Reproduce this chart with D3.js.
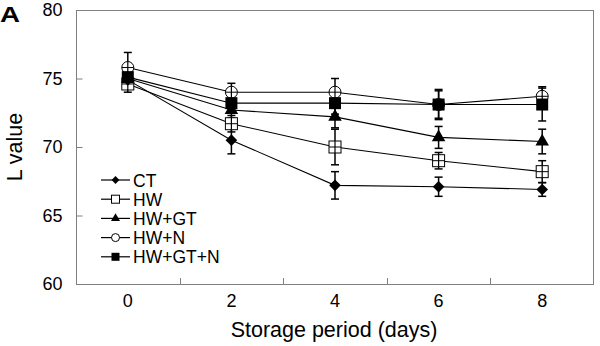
<!DOCTYPE html>
<html>
<head>
<meta charset="utf-8">
<script src="https://cdn.jsdelivr.net/npm/d3@7/dist/d3.min.js"></script>
<style>
  html, body { margin: 0; padding: 0; background: #fff; }
  svg { display: block; font-family: "Liberation Sans", Arial, sans-serif; }
</style>
</head>
<body>
<svg id="chart" width="600" height="346"></svg>
<script>
// Storage days (x categories)
const days = [0, 2, 4, 6, 8];
const yTicks = [60, 65, 70, 75, 80];

// Treatment names
const seriesNames = ["CT", "HW", "HW+GT", "HW+N", "HW+GT+N"];

// Mean L values per treatment
const ctValues      = [74.9, 70.5, 67.2, 67.1, 66.9];
const hwValues      = [74.6, 71.7, 70.0, 69.0, 68.2];
const hwgtValues    = [75.0, 72.7, 72.2, 70.7, 70.4];
const hwnValues     = [75.8, 74.0, 74.0, 73.1, 73.7];
const hwgtnValues   = [75.1, 73.2, 73.2, 73.1, 73.1];

// Standard deviations (error bars)
const ctErr    = [0.6, 1.0, 1.0, 0.7, 0.5];
const hwErr    = [0.6, 0.6, 1.3, 0.6, 0.8];
const hwgtErr  = [0.5, 0.6, 0.8, 0.8, 0.9];
const hwnErr   = [1.1, 0.65, 1.0, 1.0, 0.7];
const hwgtnErr = [0.7, 0.6, 0.8, 1.1, 1.2];

const symbols = ["diamond", "openSquare", "triangle", "openCircle", "square"];

const series = seriesNames.map((name, i) => ({
  name,
  values: [ctValues, hwValues, hwgtValues, hwnValues, hwgtnValues][i],
  errs: [ctErr, hwErr, hwgtErr, hwnErr, hwgtnErr][i],
  symbol: symbols[i]
}));

const svg = d3.select("#chart");
const margin = { left: 76, top: 10, right: 6, bottom: 62 };
const W = 600, H = 346;
const axisColor = "#7f7f7f";
const fontFamily = "Liberation Sans, Arial, sans-serif";

const x = d3.scaleBand().domain(days).range([margin.left, W - margin.right]);
const y = d3.scaleLinear().domain([60, 80]).range([H - margin.bottom, margin.top]);
const cx = d => x(d) + x.bandwidth() / 2;

// Plot frame
svg.append("rect")
  .attr("x", margin.left + 0.5).attr("y", margin.top + 0.5)
  .attr("width", W - margin.right - margin.left - 1)
  .attr("height", H - margin.bottom - margin.top)
  .attr("fill", "none").attr("stroke", axisColor).attr("stroke-width", 1);

// Y axis with inward ticks
const yAxis = svg.append("g")
  .attr("transform", `translate(${margin.left + 0.5},0)`)
  .call(d3.axisLeft(y).tickValues(yTicks).tickSizeInner(-6).tickSizeOuter(0).tickPadding(14));
yAxis.select(".domain").remove();
yAxis.selectAll(".tick line").attr("stroke", axisColor);
yAxis.selectAll(".tick text").attr("font-size", 18).attr("fill", "#000")
  .attr("font-family", fontFamily);

// X axis: labels centred on bands, inward ticks on band boundaries
const xAxis = svg.append("g")
  .attr("transform", `translate(0,${H - margin.bottom})`)
  .call(d3.axisBottom(x).tickSize(0).tickPadding(10));
xAxis.select(".domain").remove();
xAxis.selectAll(".tick text").attr("font-size", 18).attr("fill", "#000")
  .attr("font-family", fontFamily);
svg.append("g").selectAll("line")
  .data(days.slice(1))
  .join("line")
  .attr("x1", d => Math.round(x(d)) + 0.5).attr("x2", d => Math.round(x(d)) + 0.5)
  .attr("y1", H - margin.bottom).attr("y2", H - margin.bottom - 6)
  .attr("stroke", axisColor);

// Axis titles
svg.append("text")
  .attr("x", (margin.left + W - margin.right) / 2 - 1).attr("y", 337)
  .attr("text-anchor", "middle").attr("font-size", 21.5)
  .text("Storage period (days)");
svg.append("text")
  .attr("transform", `translate(22,${(margin.top + H - margin.bottom) / 2}) rotate(-90)`)
  .attr("text-anchor", "middle").attr("font-size", 21.5)
  .text("L value");
svg.append("text")
  .attr("x", 0).attr("y", 22)
  .attr("font-size", 22).attr("font-weight", "bold")
  .attr("textLength", 20).attr("lengthAdjust", "spacingAndGlyphs")
  .text("A");

// Marker drawing
function drawMarker(g, symbol, size) {
  const s = size;
  switch (symbol) {
    case "diamond":
      g.append("path").attr("d", d3.symbol(d3.symbolDiamond2, s * s * 0.6)())
        .attr("fill", "#000");
      break;
    case "openSquare":
      g.append("rect").attr("x", -s / 2).attr("y", -s / 2).attr("width", s).attr("height", s)
        .attr("fill", "#fff").attr("stroke", "#000").attr("stroke-width", 1);
      break;
    case "triangle":
      g.append("path").attr("d", d3.symbol(d3.symbolTriangle, s * s * 0.55)())
        .attr("fill", "#000");
      break;
    case "openCircle":
      g.append("circle").attr("r", s / 2)
        .attr("fill", "#fff").attr("stroke", "#000").attr("stroke-width", 1);
      break;
    case "square":
      g.append("rect").attr("x", -s / 2).attr("y", -s / 2).attr("width", s).attr("height", s)
        .attr("fill", "#000");
      break;
  }
}

const line = d3.line().x(d => cx(d.day)).y(d => y(d.v));
const plot = svg.append("g");

// Draw lines first, then error bars and markers on top
series.forEach(s => {
  const pts = days.map((d, i) => ({ day: d, v: s.values[i] }));
  plot.append("path").datum(pts).attr("d", line)
    .attr("fill", "none").attr("stroke", "#000").attr("stroke-width", 1.1);
});

// Draw order: later series over earlier ones
const drawOrder = [3, 1, 0, 2, 4];
drawOrder.forEach(si => {
  const s = series[si];
  days.forEach((d, i) => {
    const xx = cx(d), v = s.values[i], e = s.errs[i];
    const eb = plot.append("g").attr("stroke", "#000").attr("stroke-width", 1.5);
    eb.append("line").attr("x1", xx).attr("x2", xx).attr("y1", y(v + e)).attr("y2", y(v - e));
    eb.append("line").attr("x1", xx - 4).attr("x2", xx + 4).attr("y1", y(v + e)).attr("y2", y(v + e));
    eb.append("line").attr("x1", xx - 4).attr("x2", xx + 4).attr("y1", y(v - e)).attr("y2", y(v - e));
  });
});
drawOrder.forEach(si => {
  const s = series[si];
  days.forEach((d, i) => {
    const g = plot.append("g").attr("transform", `translate(${cx(d)},${y(s.values[i])})`);
    drawMarker(g, s.symbol, 12);
    // error bar and line visible through open markers
    if (s.symbol === "openSquare" || s.symbol === "openCircle") {
      g.append("line").attr("x1", 0).attr("x2", 0).attr("y1", -6).attr("y2", 6)
        .attr("stroke", "#000").attr("stroke-width", 1.2);
      g.append("line").attr("x1", -6).attr("x2", 6).attr("y1", 0).attr("y2", 0)
        .attr("stroke", "#000").attr("stroke-width", 1);
    }
  });
});

// Legend
const legend = svg.append("g");
series.forEach((s, i) => {
  const ly = 180 + i * 19.2;
  legend.append("line").attr("x1", 101).attr("x2", 130).attr("y1", ly).attr("y2", ly)
    .attr("stroke", "#000").attr("stroke-width", 1.2);
  const g = legend.append("g").attr("transform", `translate(115.5,${ly})`);
  drawMarker(g, s.symbol, 8);
  legend.append("text").attr("x", 133).attr("y", ly + 6.5)
    .attr("font-size", 17.5).text(s.name);
});
</script>
</body>
</html>
